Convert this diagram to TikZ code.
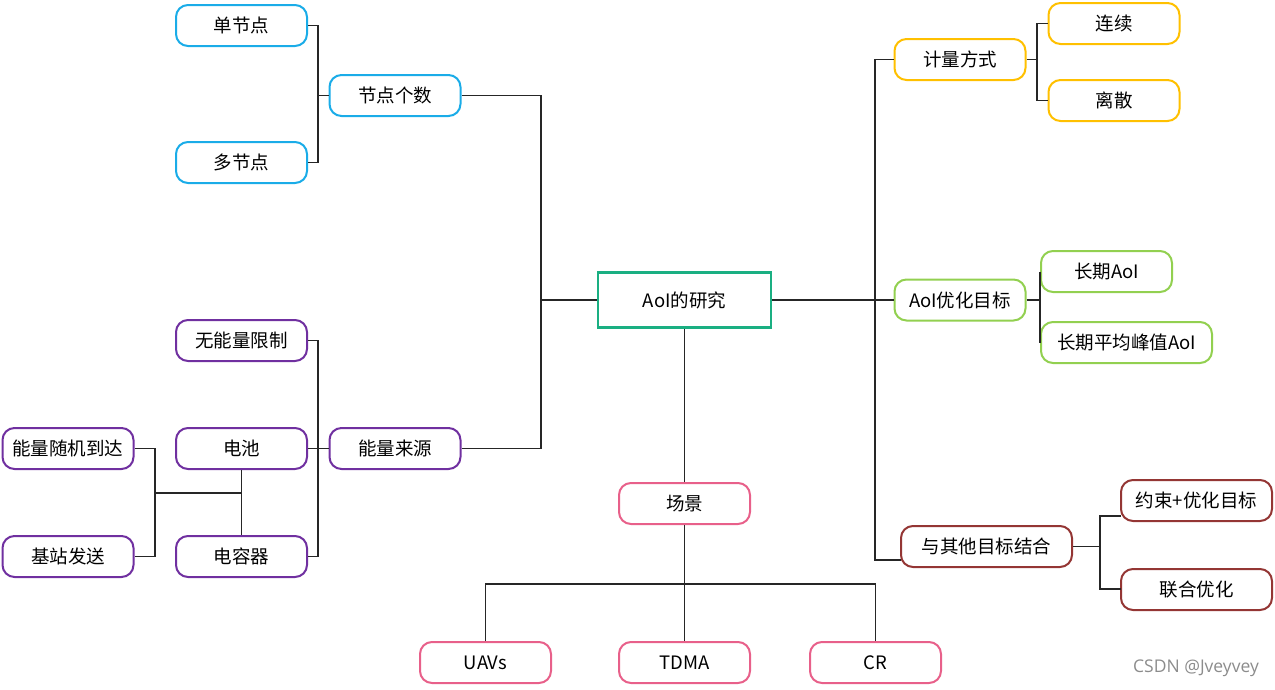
\documentclass[tikz,border=0pt]{standalone}
\usepackage{fontspec}
\setmainfont{Noto Sans CJK SC}
\newfontfamily\wmfont{Open Sans}
\definecolor{cblue}{RGB}{26,172,232}
\definecolor{cpurple}{RGB}{112,48,160}
\definecolor{cgreen}{RGB}{26,175,130}
\definecolor{cyellow}{RGB}{255,192,0}
\definecolor{clgreen}{RGB}{146,208,80}
\definecolor{cbrown}{RGB}{148,54,52}
\definecolor{cpink}{RGB}{232,96,138}
\tikzset{
  box/.style={draw, line width=2pt, rounded corners=12pt, fill=white, inner sep=0pt,
    minimum width=131pt, minimum height=41pt, font=\fontsize{18.5}{22}\selectfont},
  wide/.style={minimum width=171pt},
  wid2/.style={minimum width=151pt},
  conn/.style={line width=1.4pt, black!85},
}
\begin{document}
\begin{tikzpicture}[x=1pt,y=-1pt]
\useasboundingbox (0,0) rectangle (1275,689);
% main
\node[draw=cgreen, line width=2.8pt, fill=white, minimum width=173pt, minimum height=55pt, inner sep=0pt, font=\fontsize{18.5}{22}\selectfont] (main) at (684.5,300) {AoI的研究};
% left top
\node[box, draw=cblue] (dan) at (241.5,25.5) {单节点};
\node[box, draw=cblue] (jdgs) at (395,95.5) {节点个数};
\node[box, draw=cblue] (duo) at (241.5,162.5) {多节点};
% left bottom
\node[box, draw=cpurple] (nlly) at (395,448.5) {能量来源};
\node[box, draw=cpurple] (wnl) at (241.5,340.5) {无能量限制};
\node[box, draw=cpurple] (dc) at (241.5,448.5) {电池};
\node[box, draw=cpurple] (drq) at (241.5,556.5) {电容器};
\node[box, draw=cpurple] (sjdd) at (68,448.5) {能量随机到达};
\node[box, draw=cpurple] (jzfs) at (68,556.5) {基站发送};
% right
\node[box, draw=cyellow] (jlfs) at (960,59.5) {计量方式};
\node[box, draw=cyellow] (lx) at (1114,23.5) {连续};
\node[box, draw=cyellow] (ls) at (1114,100.5) {离散};
\node[box, draw=clgreen] (yhmb) at (960,300) {AoI优化目标};
\node[box, draw=clgreen] (cq) at (1106.5,271.5) {长期AoI};
\node[box, draw=clgreen, wide] (cqpj) at (1126.5,342.5) {长期平均峰值AoI};
\node[box, draw=cbrown, wide] (jh) at (986.5,546.5) {与其他目标结合};
\node[box, draw=cbrown, wid2] (ys) at (1196.5,500.5) {约束+优化目标};
\node[box, draw=cbrown, wid2] (lh) at (1196.5,589.5) {联合优化};
% bottom
\node[box, draw=cpink] (cj) at (684.5,503.5) {场景};
\node[box, draw=cpink] (uav) at (485.5,662.5) {UAVs};
\node[box, draw=cpink] (tdma) at (684.5,662.5) {TDMA};
\node[box, draw=cpink] (cr) at (875.5,662.5) {CR};
\coordinate (jhin) at (901,560);
\coordinate (ysin) at (1121,516);
\coordinate (lhin) at (1121,589);
% left top
\draw[conn] (dan.east) -| (318,95.5) |- (duo.east);
\draw[conn] (jdgs.west) -- (318,95.5);
\draw[conn] (jdgs.east) -| (541,300) -- (main.west);
\draw[conn] (nlly.east) -| (541,300);
% energy
\draw[conn] (wnl.east) -| (318,448.5) |- (drq.east);
\draw[conn] (dc.east) -- (nlly.west);
\draw[conn] (sjdd.east) -| (155,493) |- (jzfs.east);
\draw[conn] (155,493) -- (241.5,493);
\draw[conn] (dc.south) -- (drq.north);
% right
\draw[conn] (main.east) -- (yhmb.west);
\draw[conn] (jlfs.west) -| (875,300) |- (jhin);
\draw[conn] (jlfs.east) -| (1037,59.5);
\draw[conn] (lx.west) -| (1037,59.5) |- (ls.west);
\draw[conn] (yhmb.east) -- (1040.5,300);
\draw[conn] (cq.west) -- (cqpj.west);
\draw[conn] (jh.east) -| (1100,546.5);
\draw[conn] (ysin) -| (1100,546.5) |- (lhin);
% bottom
\draw[conn] (main.south) -- (cj.north);
\draw[conn] (cj.south) -- (tdma.north);
\draw[conn] (uav.north) |- (684.5,584) -| (cr.north);
% watermark
\node[anchor=east, text=black!45, font=\wmfont\fontsize{17.5}{20}\selectfont, inner sep=0pt] (wm) at (1259,668) {CSDN @Jveyvey};
\end{tikzpicture}
\end{document}
